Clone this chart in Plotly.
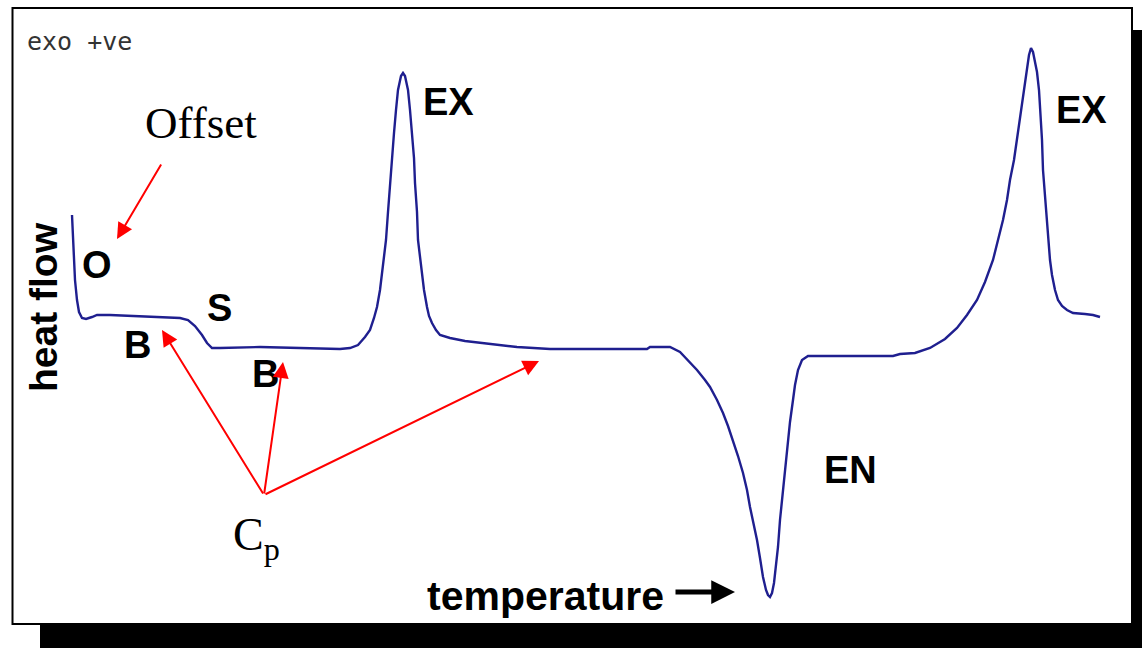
import plotly.graph_objects as go

# DSC trace: temperature (x) against heat flow (exo up), in drawing units
temperature = [72, 73, 74, 75, 77, 79, 82, 86, 92, 97, 110, 130, 150, 180, 188, 195, 202, 207, 212,
               220, 260, 300, 340, 350, 358, 365, 370, 374, 377, 380, 382, 384, 386, 388, 390, 392,
               394, 396, 398, 401, 403, 405, 408, 410, 412, 414, 415, 417, 418, 420, 422, 424, 427,
               429, 432, 436, 440, 450, 465, 483, 500, 517, 550, 600, 647, 650, 670, 680, 690, 697,
               705, 710, 717, 723, 728, 733, 738, 743, 747, 750, 754, 757, 760, 763, 766, 768, 770,
               772, 774, 776, 778, 780, 783, 785, 788, 790, 793, 795, 798, 802, 808, 850, 893, 900,
               915, 930, 945, 957, 967, 977, 985, 993, 998, 1003, 1007, 1010, 1014, 1017, 1020, 1023,
               1027, 1029, 1031, 1033, 1035, 1037, 1039, 1040, 1042, 1043, 1045, 1047, 1050, 1052,
               1055, 1058, 1062, 1067, 1073, 1085, 1093, 1100]
heat_flow = [433, 408, 386, 368, 348, 336, 330, 329, 331, 333, 333, 332, 331, 330, 328, 322, 313, 305,
             300, 300, 301, 300, 299, 300, 303, 311, 318, 330, 341, 358, 375, 391, 408, 436, 465, 490,
             515, 538, 558, 572, 575, 572, 558, 538, 515, 490, 465, 436, 408, 391, 375, 358, 341, 332,
             325, 318, 313, 310, 307, 305, 303, 301, 299, 299, 299, 301, 301, 296, 286, 278, 268, 261,
             248, 235, 222, 208, 192, 175, 158, 141, 124, 108, 90, 71, 58, 53, 51, 55, 65, 81, 101,
             128, 158, 182, 205, 226, 248, 263, 278, 288, 292, 292, 292, 294, 295, 300, 309, 320, 333,
             348, 366, 388, 408, 428, 448, 468, 488, 508, 528, 548, 578, 593, 600, 596, 586, 576, 558,
             543, 508, 478, 453, 428, 388, 373, 358, 348, 342, 338, 335, 334, 333, 331]

# Region labels on the trace
label_text = ["O", "B", "S", "B", "EX", "EN", "EX"]
label_x = [97, 137, 219, 265, 448, 850, 1081]
label_y = [383, 303, 340, 274, 546, 178, 538]

# Red pointer arrows: (tail x, tail y, head x, head y)
pointer_tail_x = [162, 264, 264, 264]
pointer_tail_y = [485, 153, 153, 153]
pointer_head_x = [117, 162, 283, 539]
pointer_head_y = [409, 318, 286, 287]

CURVE = "#1f1f8f"
FONT = "Liberation Sans"

fig = go.Figure()

# drop shadow behind the frame, then the white framed panel
fig.add_shape(type="rect", x0=40, x1=1160, y0=-10, y1=618, layer="below",
              line=dict(width=0), fillcolor="black")
fig.add_shape(type="rect", x0=12.5, x1=1132, y0=24, y1=640, layer="below",
              line=dict(color="black", width=2), fillcolor="white")

fig.add_trace(go.Scatter(x=temperature, y=heat_flow, mode="lines",
                         line=dict(color=CURVE, width=2.4), hoverinfo="skip"))

for t, x, y in zip(label_text, label_x, label_y):
    fig.add_annotation(x=x, y=y, text=t, showarrow=False,
                       font=dict(family=FONT, size=38, color="black", weight="bold"))

for tx, ty, hx, hy in zip(pointer_tail_x, pointer_tail_y, pointer_head_x, pointer_head_y):
    fig.add_annotation(x=hx, y=hy, ax=tx, ay=ty, xref="x", yref="y", axref="x", ayref="y",
                       text="", showarrow=True, arrowhead=2, arrowsize=1.6,
                       arrowwidth=2, arrowcolor="#ff0000", standoff=0, startstandoff=0)

fig.add_annotation(x=25, y=607, text="exo +ve", showarrow=False, xanchor="left",
                   font=dict(family="DejaVu Sans Mono", size=25, color="#333333"))
fig.add_annotation(x=143, y=525, text="Offset", showarrow=False, xanchor="left",
                   font=dict(family="Liberation Serif", size=45, color="black"))
fig.add_annotation(x=231, y=110, text="C<sub>p</sub>", showarrow=False, xanchor="left",
                   font=dict(family="Liberation Serif", size=46, color="black"))
fig.add_annotation(x=43, y=341, text="heat flow", showarrow=False, textangle=-90,
                   font=dict(family=FONT, size=39, color="black", weight="bold"))
fig.add_annotation(x=425, y=52, text="temperature", showarrow=False, xanchor="left",
                   font=dict(family=FONT, size=41, color="black", weight="bold"))
fig.add_annotation(x=735, y=56, ax=674, ay=56, xref="x", yref="y", axref="x", ayref="y",
                   text="", showarrow=True, arrowhead=2, arrowsize=0.95,
                   arrowwidth=5, arrowcolor="black", standoff=0, startstandoff=0)

fig.update_layout(
    width=1142, height=648, margin=dict(l=0, r=0, t=0, b=0),
    paper_bgcolor="white", plot_bgcolor="white", showlegend=False,
    xaxis=dict(range=[0, 1142], visible=False, fixedrange=True),
    yaxis=dict(range=[0, 648], visible=False, fixedrange=True),
)

fig.write_html("out.html")
